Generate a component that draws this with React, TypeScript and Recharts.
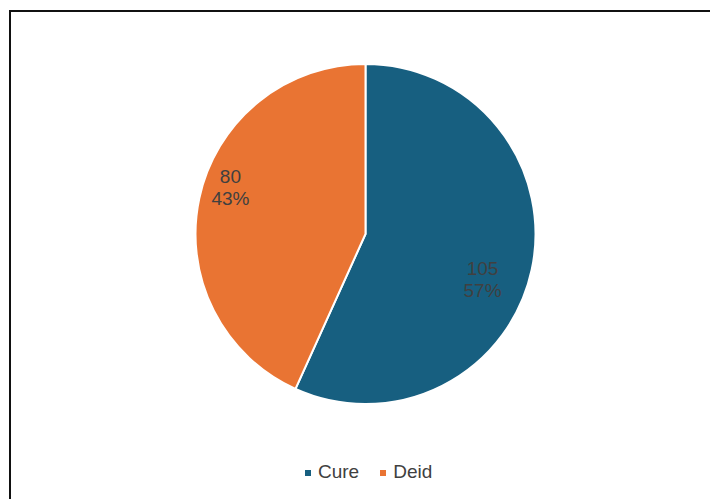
import { PieChart, Pie, Cell, Legend } from 'recharts';

const categories = ['Cure', 'Deid'];
const counts = [105, 80];
const colors = ['#175f80', '#e97433'];

const data = categories.map((name, i) => ({ name, value: counts[i] }));
const total = counts.reduce((a, b) => a + b, 0);

const RAD = Math.PI / 180;
const FONT = "'Liberation Sans', Arial, sans-serif";

function renderLabel(props: any) {
  const { cx, cy, midAngle, outerRadius, value } = props;
  // Excel "best fit" puts the labels a little clockwise of the mid angle
  const angle = midAngle - 8;
  const r = outerRadius * 0.79;
  const x = cx + r * Math.cos(-angle * RAD) - 9;
  const y = cy + r * Math.sin(-angle * RAD);
  const pct = Math.round((value / total) * 100);
  return (
    <text x={x} y={y} fill="#404040" textAnchor="middle" fontSize={19} fontFamily={FONT}>
      <tspan x={x} dy={-5}>{value}</tspan>
      <tspan x={x} dy={22}>{pct}%</tspan>
    </text>
  );
}

export default function App() {
  return (
    <div style={{ position: 'fixed', left: 0, top: 0, width: 710, height: 499, overflow: 'hidden', background: '#fff' }}>
      {/* frame: only the top and left edges fall inside the picture */}
      <div
        style={{
          position: 'absolute',
          left: 9,
          top: 10,
          width: 720,
          height: 520,
          borderTop: '2px solid #111',
          borderLeft: '2px solid #111',
          boxSizing: 'border-box',
        }}
      />
      <div style={{ position: 'absolute', left: 0, top: 0 }}>
        <PieChart width={710} height={499} margin={{ top: 0, right: 0, bottom: 0, left: 0 }}>
          <Pie
            data={data}
            dataKey="value"
            nameKey="name"
            cx={365.5}
            cy={234}
            outerRadius={170}
            startAngle={90}
            endAngle={-270}
            stroke="#fff"
            strokeWidth={2}
            label={renderLabel}
            labelLine={false}
            isAnimationActive={false}
          >
            {data.map((d, i) => (
              <Cell key={d.name} fill={colors[i]} />
            ))}
          </Pie>
          <Legend
            verticalAlign="bottom"
            iconType="square"
            iconSize={6}
            wrapperStyle={{
              top: 461,
              left: 305,
              width: 'auto',
              fontSize: 19,
              fontFamily: FONT,
              textAlign: 'left',
            }}
            formatter={(v: string) => (
              <span style={{ color: '#404040', marginLeft: 3, marginRight: 11 }}>{v}</span>
            )}
          />
        </PieChart>
      </div>
    </div>
  );
}
